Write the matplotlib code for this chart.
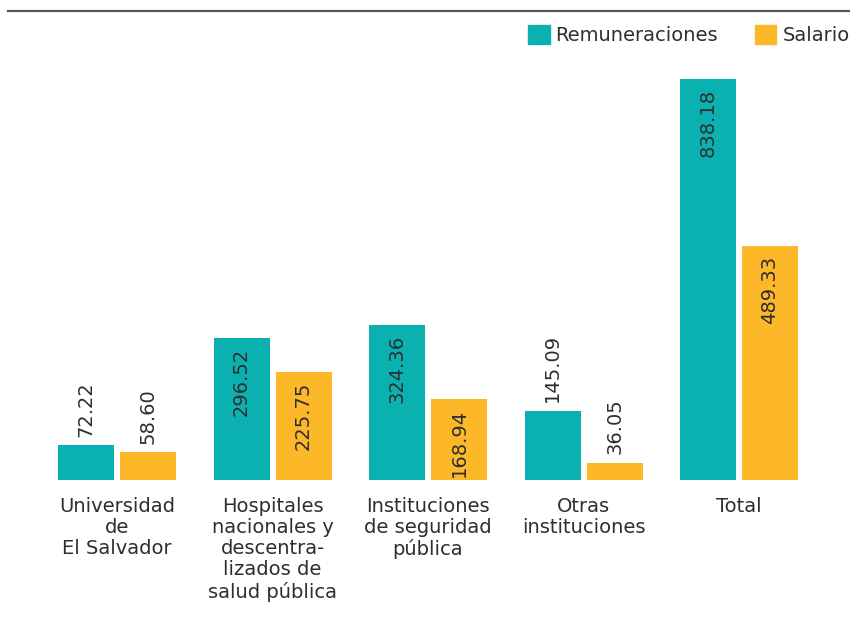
import matplotlib.pyplot as plt
import numpy as np
from matplotlib.lines import Line2D
from matplotlib.patches import Patch

categories = ["Universidad\nde\nEl Salvador",
              "Hospitales\nnacionales y\ndescentra-\nlizados de\nsalud pública",
              "Instituciones\nde seguridad\npública",
              "Otras\ninstituciones",
              "Total"]
remuneraciones = [72.22, 296.52, 324.36, 145.09, 838.18]
salario = [58.60, 225.75, 168.94, 36.05, 489.33]

teal = "#0BB1B1"
orange = "#FDB82A"
txt = "#2E2E2E"
plt.rcParams["font.family"] = ["DejaVu Sans"]

fig = plt.figure(figsize=(8.5, 6.22), dpi=100)
# axes in pixel terms: x 39..817, y 60..480 (from top)
step = 155.5
ax = fig.add_axes([(117 - step / 2) / 850, (622 - 480) / 622, 5 * step / 850, 420 / 622])

x = np.arange(len(categories))
w = 56 / step
off = 31 / step

def draw(vals, pos, color):
    bars = ax.bar(pos, vals, width=w, color=color)
    for b, v in zip(bars, vals):
        cx = b.get_x() + b.get_width() / 2
        if v > 150:
            ax.annotate(f"{v:.2f}", (cx, v), xytext=(0, -7), textcoords="offset points",
                        rotation=90, ha="center", va="top", fontsize=14, color=txt)
        else:
            ax.annotate(f"{v:.2f}", (cx, v), xytext=(0, 6), textcoords="offset points",
                        rotation=90, ha="center", va="bottom", fontsize=14, color=txt)

draw(remuneraciones, x - off, teal)
draw(salario, x + off, orange)

ax.set_xlim(-0.5, len(categories) - 0.5)
ax.set_ylim(0, 420 / 0.4784)
ax.set_yticks([])
ax.set_xticks(x)
ax.set_xticklabels(categories, fontsize=14, color=txt, linespacing=1.15)
ax.tick_params(axis="x", length=0, pad=12)
for s in ax.spines.values():
    s.set_visible(False)

# top rule
fig.add_artist(Line2D([8 / 850, 1], [1 - 11 / 622, 1 - 11 / 622], color="#555555", lw=1.6))

handles = [Patch(color=teal), Patch(color=orange)]
fig.legend(handles, ["Remuneraciones", "Salario"], loc="upper right",
           bbox_to_anchor=(1.02, 1 - 8 / 622), ncol=2, frameon=False,
           fontsize=14, handlelength=1.1, handleheight=1.1, handletextpad=0.3,
           columnspacing=1.9, labelcolor=txt)

fig.savefig("out.png", dpi=100)
